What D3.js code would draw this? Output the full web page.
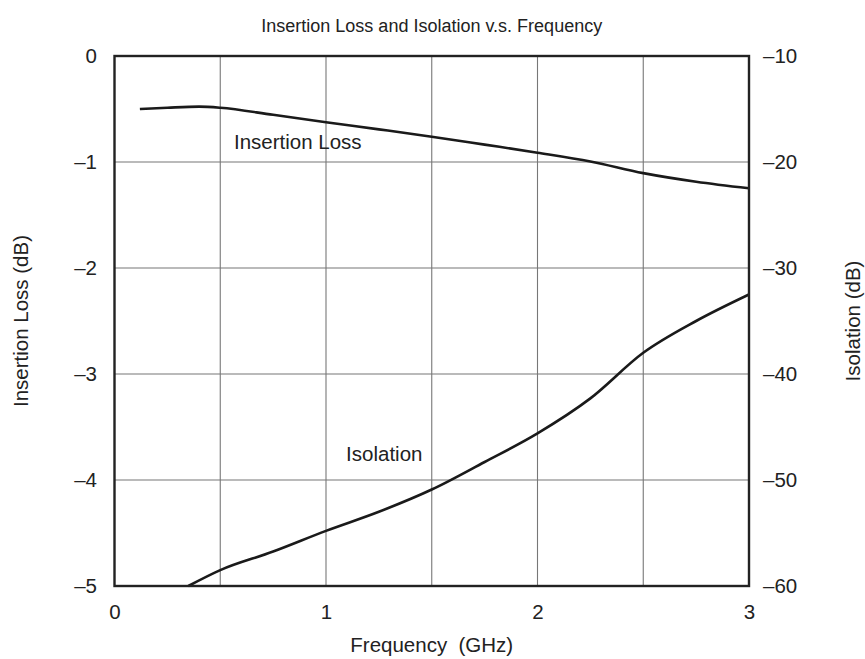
<!DOCTYPE html>
<html>
<head>
<meta charset="utf-8">
<script src="https://cdn.jsdelivr.net/npm/d3@7"></script>
<style>
  html, body { margin: 0; padding: 0; background: #fff; }
  svg { display: block; font-family: "Liberation Sans", Arial, Helvetica, sans-serif; }
</style>
</head>
<body>
<svg id="chart" width="865" height="659"></svg>
<script>
// ---- Data ----
const freqTicks = [0, 1, 2, 3];
const lossTicks = [0, -1, -2, -3, -4, -5];
const isoTicks = [-10, -20, -30, -40, -50, -60];
const gridFreq = [0.5, 1, 1.5, 2, 2.5];
const gridLoss = [-1, -2, -3, -4];

const lossFreq = [0.12, 0.25, 0.4, 0.5, 0.75, 1.0, 1.25, 1.5, 1.75, 2.0, 2.25, 2.5, 2.75, 3.0];
const lossValues = [-0.50, -0.488, -0.478, -0.488, -0.555, -0.625, -0.692, -0.761, -0.836, -0.912, -0.995, -1.105, -1.186, -1.248];

const isoFreq = [0.349, 0.5, 0.75, 1.0, 1.25, 1.5, 1.75, 2.0, 2.25, 2.5, 2.75, 3.0];
const isoValues = [-60.0, -58.5, -56.75, -54.8, -53.0, -50.9, -48.3, -45.6, -42.3, -38.0, -35.0, -32.5];

const title = "Insertion Loss and Isolation v.s. Frequency";
const xTitle = "Frequency  (GHz)";
const yLeftTitle = "Insertion Loss (dB)";
const yRightTitle = "Isolation (dB)";
const lossLabel = "Insertion Loss";
const isoLabel = "Isolation";

// ---- Layout ----
const svg = d3.select("#chart");
const L = 114.5, R = 749, T = 56, B = 586;
const x = d3.scaleLinear().domain([0, 3]).range([L, R]);
const yL = d3.scaleLinear().domain([-5, 0]).range([B, T]);
const yR = d3.scaleLinear().domain([-60, -10]).range([B, T]);

const fmt = d => d === 0 ? "0" : (d < 0 ? "\u2013" + Math.abs(d) : String(d));
const FS = 20.5;
const textColor = "#222";

// grid
const grid = svg.append("g");
grid.selectAll("line.v").data(gridFreq).join("line")
  .attr("x1", d => x(d)).attr("x2", d => x(d))
  .attr("y1", T).attr("y2", B)
  .attr("stroke", "#777").attr("stroke-width", 1.1);
grid.selectAll("line.h").data(gridLoss).join("line")
  .attr("x1", L).attr("x2", R)
  .attr("y1", d => yL(d)).attr("y2", d => yL(d))
  .attr("stroke", "#777").attr("stroke-width", 1.1);

// axes (labels only)
function styleAxis(g) {
  g.select(".domain").remove();
  g.selectAll("line").remove();
  g.selectAll("text").attr("font-size", FS).attr("fill", textColor)
    .attr("font-family", "Liberation Sans, Arial, sans-serif");
}
svg.append("g").attr("transform", `translate(${L},0)`)
  .call(d3.axisLeft(yL).tickValues(lossTicks).tickFormat(fmt).tickSize(0).tickPadding(17.5))
  .call(styleAxis);
svg.append("g").attr("transform", `translate(${R},0)`)
  .call(d3.axisRight(yR).tickValues(isoTicks).tickFormat(fmt).tickSize(0).tickPadding(14))
  .call(styleAxis);
svg.append("g").attr("transform", `translate(0,${B})`)
  .call(d3.axisBottom(x).tickValues(freqTicks).tickFormat(fmt).tickSize(0).tickPadding(18.5))
  .call(styleAxis);

// curves
const lossLine = d3.line().x((d, i) => x(lossFreq[i])).y(d => yL(d)).curve(d3.curveMonotoneX);
const isoLine = d3.line().x((d, i) => x(isoFreq[i])).y(d => yR(d)).curve(d3.curveMonotoneX);
svg.append("path").attr("d", lossLine(lossValues))
  .attr("fill", "none").attr("stroke", "#1a1a1a").attr("stroke-width", 2.6);
svg.append("path").attr("d", isoLine(isoValues))
  .attr("fill", "none").attr("stroke", "#1a1a1a").attr("stroke-width", 2.6);

// frame
svg.append("rect").attr("x", L).attr("y", T).attr("width", R - L).attr("height", B - T)
  .attr("fill", "none").attr("stroke", "#222").attr("stroke-width", 2.4);

// series labels
svg.append("text").attr("x", x(0.565)).attr("y", yL(-0.877))
  .attr("font-size", FS).attr("fill", textColor).text(lossLabel);
svg.append("text").attr("x", x(1.095)).attr("y", yL(-3.82))
  .attr("font-size", FS).attr("fill", textColor).text(isoLabel);

// titles
svg.append("text").attr("x", (L + R) / 2).attr("y", 32).attr("text-anchor", "middle")
  .attr("font-size", 18).attr("fill", textColor).text(title);
svg.append("text").attr("x", (L + R) / 2).attr("y", 652).attr("text-anchor", "middle")
  .attr("font-size", FS).attr("fill", textColor).style("white-space", "pre").text(xTitle);
svg.append("text").attr("transform", `translate(28,${(T + B) / 2}) rotate(-90)`)
  .attr("text-anchor", "middle").attr("font-size", FS).attr("fill", textColor).text(yLeftTitle);
svg.append("text").attr("transform", `translate(860,${(T + B) / 2}) rotate(-90)`)
  .attr("text-anchor", "middle").attr("font-size", FS).attr("fill", textColor).text(yRightTitle);
</script>
</body>
</html>
